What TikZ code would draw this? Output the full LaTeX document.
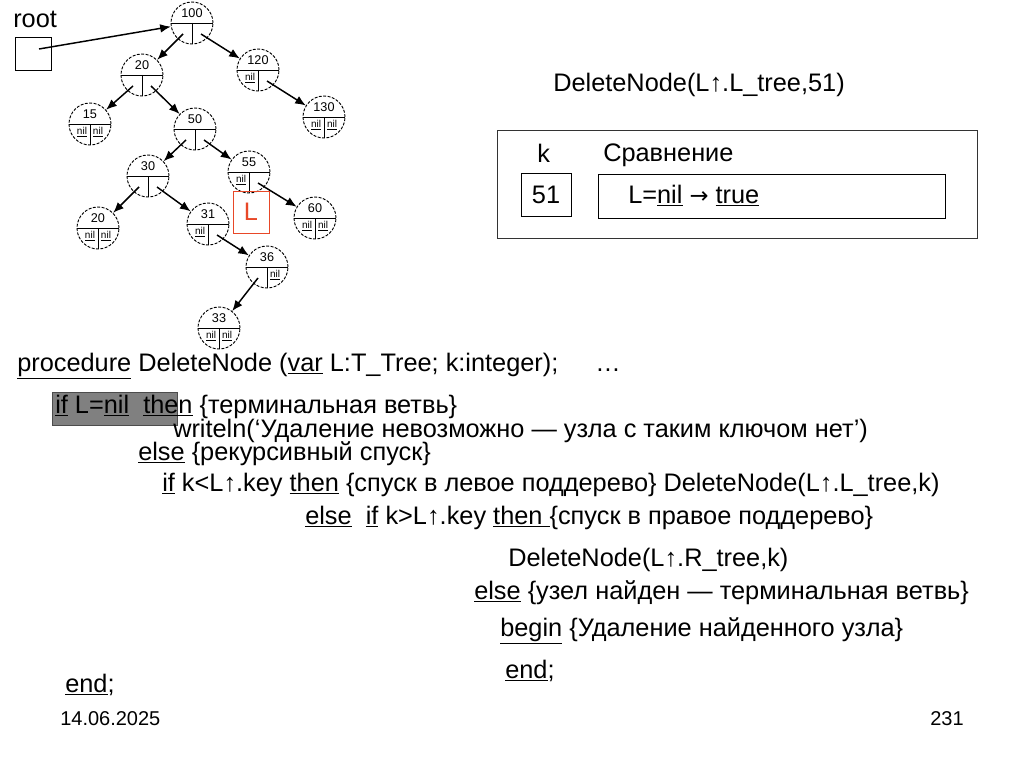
\documentclass[tikz,border=0pt]{standalone}
\usepackage{fontspec}
\setmainfont{Liberation Sans}
\newfontfamily\djv{DejaVu Sans}
\usetikzlibrary{arrows.meta,calc}
\definecolor{lred}{RGB}{232,72,40}
\definecolor{hlgray}{RGB}{128,128,128}
\newcommand\kw[1]{\underline{#1}}
\newcommand\tnode[6]{%
  \node[tcirc] (#1) at (#2,#3) {};
  \draw[cell] (#1.west) -- (#1.east);
  \draw[cell] (#1.center) -- (#1.south);
  \node[keyt] (#1k) at ($(#1)+(0,-10)$) {#4};
  \if\relax\detokenize{#5}\relax\else\node[nilt] (#1l) at ($(#1)+(-8,8)$) {\kw{#5}};\fi
  \if\relax\detokenize{#6}\relax\else\node[nilt] (#1r) at ($(#1)+(8,8)$) {\kw{#6}};\fi
  \coordinate (#1pl) at ($(#1)+(-9,11)$);
  \coordinate (#1pr) at ($(#1)+(9,11)$);
}
\begin{document}
\begin{tikzpicture}[x=0.75pt,y=-0.75pt,
  txt/.style={anchor=base west,inner sep=0,font=\fontsize{19}{23}\selectfont},
  small/.style={anchor=base west,inner sep=0,font=\fontsize{15}{18}\selectfont},
  tcirc/.style={circle,draw,line width=0.7pt,dash pattern=on 2.2pt off 1.1pt,minimum size=31.5pt,inner sep=0},
  cell/.style={line width=0.7pt},
  keyt/.style={inner sep=0,font=\fontsize{9.5}{10}\selectfont},
  nilt/.style={inner sep=0,font=\fontsize{7.5}{9}\selectfont},
  ptr/.style={line width=1.1pt,-{Latex[length=8pt,width=6.5pt]}},
  frame/.style={draw,line width=0.75pt,inner sep=0}]
\useasboundingbox (0,0) rectangle (1024,767);

% ---- tree ----
\node[txt] (roottxt) at (13,28) {root};
\node[frame,minimum width=27pt,minimum height=24.75pt] (rootbox) at (33,54.5) {};
\coordinate (rootptr) at (39,49);

\tnode{n100}{192}{23}{100}{}{}
\tnode{n20}{142}{75}{20}{}{}
\tnode{n120}{258}{70}{120}{nil}{}
\tnode{n15}{90}{124}{15}{nil}{nil}
\tnode{n50}{195}{129}{50}{}{}
\tnode{n130}{324}{117}{130}{nil}{nil}
\tnode{n30}{148}{176}{30}{}{}
\tnode{n55}{249}{172}{55}{nil}{}
\tnode{n20b}{98}{228}{20}{nil}{nil}
\tnode{n31}{208}{224}{31}{nil}{}
\tnode{n60}{315}{218}{60}{nil}{nil}
\tnode{n36}{267}{267}{36}{}{nil}
\tnode{n33}{219}{328}{33}{nil}{nil}

\draw[ptr] (rootptr) -- (n100);
\draw[ptr] (n100pl) -- (n20);
\draw[ptr] (n100pr) -- (n120);
\draw[ptr] (n20pl) -- (n15);
\draw[ptr] (n20pr) -- (n50);
\draw[ptr] (n120pr) -- (n130);
\draw[ptr] (n50pl) -- (n30);
\draw[ptr] (n50pr) -- (n55);
\draw[ptr] (n30pl) -- (n20b);
\draw[ptr] (n30pr) -- (n31);
\draw[ptr] (n55pr) -- (n60);
\draw[ptr] (n31pr) -- (n36);
\draw[ptr] (n36pl) -- (n33);

\node[draw=lred,line width=0.75pt,minimum width=27pt,minimum height=31.5pt,inner sep=0,
      text=lred,font=\fontsize{19}{23}\selectfont] (Lbox) at (251,212) {L};

% ---- right panel ----
\node[txt] (call) at (553,92) {DeleteNode(L↑.L\_tree,51)};
\node[frame,draw=black!80,minimum width=360pt,minimum height=81pt] (outer) at (737,184) {};
\node[txt] (klabel) at (537,162) {k};
\node[txt] (cmplabel) at (603,161) {Сравнение};
\node[frame,minimum width=37.5pt,minimum height=32.25pt,font=\fontsize{19}{23}\selectfont] (kbox) at (546,194.5) {51};
\node[frame,minimum width=260.25pt,minimum height=33pt] (cmpbox) at (771.5,196) {};
\node[txt] (cmptxt) at (628,203) {L=\kw{nil} {\djv\fontsize{17}{20}\selectfont →} \kw{true}};

% ---- code ----
\node[fill=hlgray,draw=black!70,line width=0.75pt,minimum width=93.75pt,minimum height=24.75pt,inner sep=0] (hl) at (114.5,408.5) {};
\node[txt] (c1) at (17,371) {\kw{procedure} DeleteNode (\kw{var} L:T\_Tree; k:integer);};
\node[txt] (dots) at (595,371) {…};
\node[txt] (c2) at (55,413) {\kw{if} L=\kw{nil}\ \ \kw{then} \{терминальная ветвь\}};
\node[txt] (c3) at (173,437) {writeln(‘Удаление невозможно — узла с таким ключом нет’)};
\node[txt] (c4) at (138,460) {\kw{else} \{рекурсивный спуск\}};
\node[txt] (c5) at (162,491) {\kw{if} k<L↑.key \kw{then} \{спуск в левое поддерево\} DeleteNode(L↑.L\_tree,k)};
\node[txt] (c6) at (305,524) {\kw{else}\ \ \kw{if} k>L↑.key \kw{then\ }\{спуск в правое поддерево\}};
\node[txt] (c7) at (508,566) {DeleteNode(L↑.R\_tree,k)};
\node[txt] (c8) at (474,599) {\kw{else} \{узел найден — терминальная ветвь\}};
\node[txt] (c9) at (500,636) {\kw{begin} \{Удаление найденного узла\}};
\node[txt] (c10) at (505,678) {\kw{end};};
\node[txt] (c11) at (65,692) {\kw{end};};

\node[small] (date) at (60,725) {14.06.2025};
\node[small] (page) at (930,725) {231};
\end{tikzpicture}
\end{document}
